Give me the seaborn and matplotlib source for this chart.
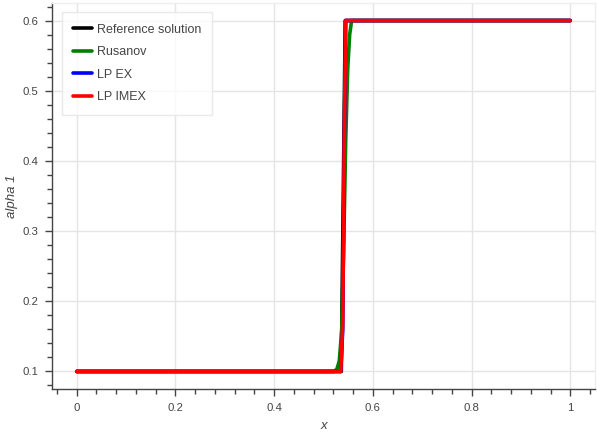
import numpy as np
import pandas as pd
import matplotlib
matplotlib.use("Agg")
import matplotlib.pyplot as plt
import seaborn as sns
from matplotlib.ticker import MultipleLocator

# Data
ref_x = [0.0, 0.536, 0.540, 0.544, 1.0]
ref_y = [0.1, 0.1, 0.35, 0.6, 0.6]

rus_x = [0.0, 0.52, 0.527, 0.532, 0.537, 0.541, 0.545, 0.549, 0.553, 0.557, 1.0]
rus_y = [0.1, 0.1, 0.103, 0.115, 0.16, 0.28, 0.43, 0.53, 0.58, 0.6, 0.6]

lpex_x = [0.0, 0.535, 0.539, 0.542, 0.545, 1.0]
lpex_y = [0.1, 0.1, 0.16, 0.42, 0.6, 0.6]

lpimex_x = [0.0, 0.535, 0.539, 0.542, 0.545, 1.0]
lpimex_y = [0.1, 0.1, 0.17, 0.43, 0.6, 0.6]

labels = ["Reference solution", "Rusanov", "LP EX", "LP IMEX"]
colors = ["black", "green", "blue", "red"]

series = [(ref_x, ref_y), (rus_x, rus_y), (lpex_x, lpex_y), (lpimex_x, lpimex_y)]
frames = []
for lab, (xs, ys) in zip(labels, series):
    frames.append(pd.DataFrame({"x": xs, "y": ys, "method": lab}))
df = pd.concat(frames, ignore_index=True)

sns.set_theme(style="white")
plt.rcParams["font.family"] = ["Liberation Sans", "DejaVu Sans"]

fig = plt.figure(figsize=(5.97, 4.32), dpi=100)
ax = fig.add_axes([52 / 597, (432 - 389) / 432, (595 - 52) / 597, (389 - 3) / 432])

sns.lineplot(data=df, x="x", y="y", hue="method", hue_order=labels,
             palette=dict(zip(labels, colors)), sort=False, estimator=None,
             units="method", linewidth=2.6, ax=ax)

ax.set_xlim(-0.05, 1.05)
ax.set_ylim(0.075, 0.625)

ax.xaxis.set_minor_locator(MultipleLocator(0.04))
ax.yaxis.set_minor_locator(MultipleLocator(0.02))
ax.set_xticks([0, 0.2, 0.4, 0.6, 0.8, 1.0])
ax.set_xticklabels(["0", "0.2", "0.4", "0.6", "0.8", "1"])
ax.set_yticks([0.1, 0.2, 0.3, 0.4, 0.5, 0.6])
ax.set_yticklabels(["0.1", "0.2", "0.3", "0.4", "0.5", "0.6"])

ax.grid(True, which="major", color="#e5e5e5", linewidth=1)
ax.set_axisbelow(True)

for s in ["top", "right"]:
    ax.spines[s].set_color("#eeeeee")
    ax.spines[s].set_linewidth(1)
for s in ["left", "bottom"]:
    ax.spines[s].set_color("#444444")
    ax.spines[s].set_linewidth(1)

ax.tick_params(which="major", direction="out", length=5, width=1, color="#444444",
               labelsize=8.2, labelcolor="#444444", bottom=True, left=True, pad=5)
ax.tick_params(which="minor", direction="out", length=3.5, width=1, color="#444444",
               bottom=True, left=True)

ax.set_xlabel("x", fontsize=9.5, style="italic", color="#444444", labelpad=5)
ax.set_ylabel("alpha 1", fontsize=9.5, style="italic", color="#444444", labelpad=3)

leg = ax.legend(loc="upper left", bbox_to_anchor=(0.018, 0.976), fontsize=9.0,
                frameon=True, fancybox=False, handlelength=1.5, handletextpad=0.4,
                labelspacing=0.85, borderpad=0.9, borderaxespad=0)
leg.get_frame().set_edgecolor("#e5e5e5")
leg.get_frame().set_linewidth(1)
for line in leg.get_lines():
    line.set_linewidth(2.6)
for t in leg.get_texts():
    t.set_color("#444444")

fig.savefig("out.png", dpi=100)
